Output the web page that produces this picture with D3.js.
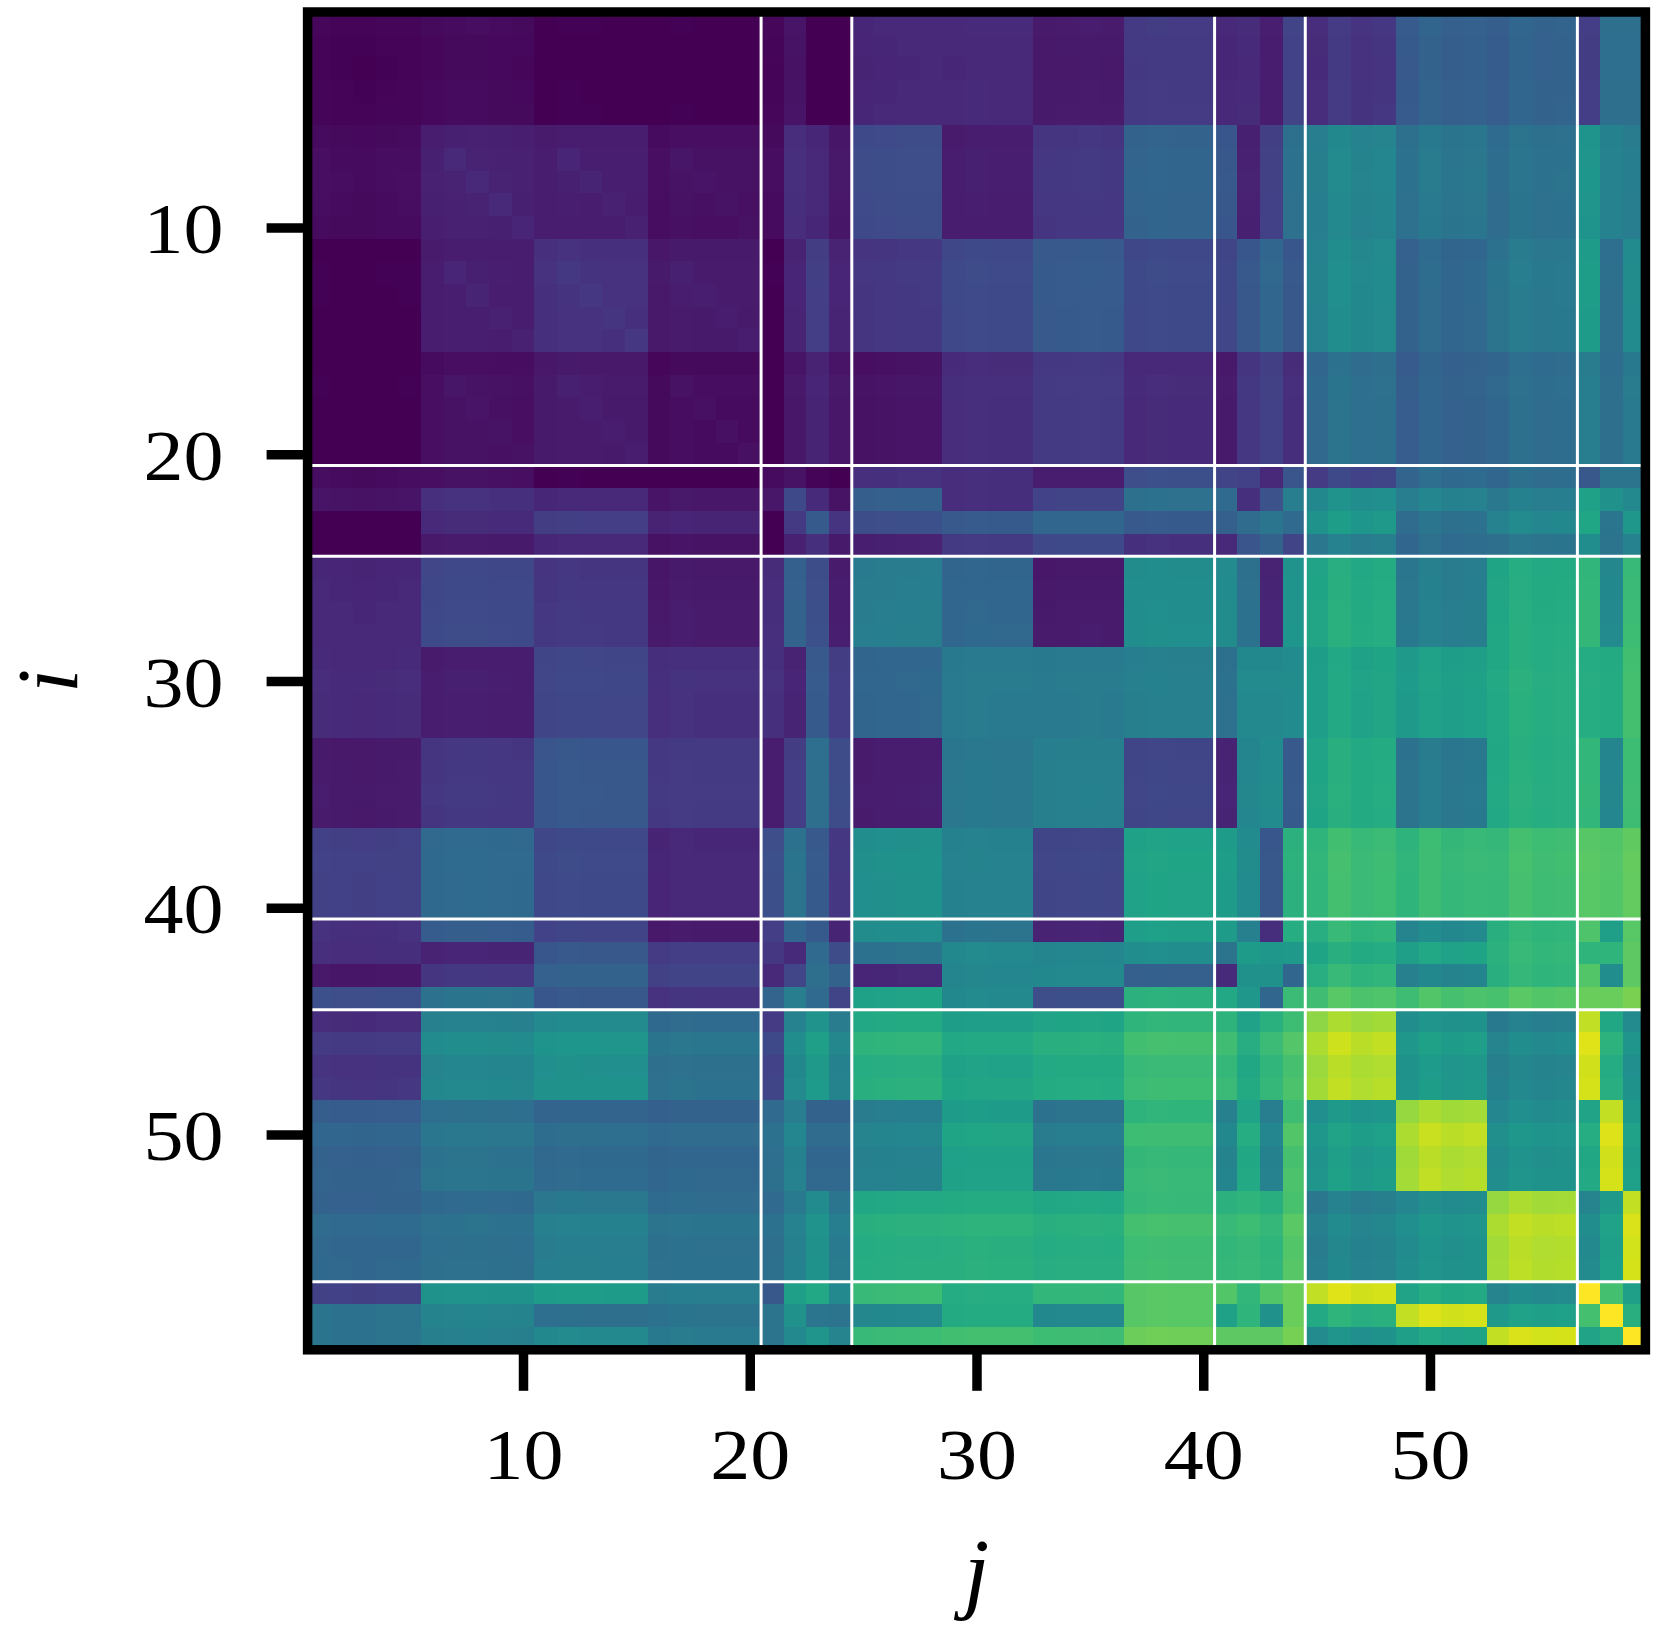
<!DOCTYPE html>
<html>
<head>
<meta charset="utf-8">
<script src="https://cdn.jsdelivr.net/npm/d3@7"></script>
<style>
  body { margin: 0; background: #fff; }
  text { font-family: "Liberation Serif", serif; fill: #000; }
</style>
</head>
<body>
<svg id="main-svg"></svg>
<script>
// sizes of the blocks along both axes, 59 indices in all
let groupSizes = [5, 5, 5, 5, 1, 1, 1, 1, 4, 4, 4, 4, 1, 1, 1, 1, 4, 4, 4, 1, 1, 1];

// value of each block (0 - 1 on viridis)
let blockValues = [
  [.01,.025,0,0,.015,.05,0,0,.11,.115,.07,.17,.11,.12,.08,.2,.15,.3,.31,.18,.36,.36],
  [.03,.09,.08,.04,.03,.13,.11,.06,.23,.08,.16,.32,.27,.09,.19,.37,.45,.39,.37,.52,.44,.42],
  [0,.08,.14,.07,0,.1,.18,.1,.16,.22,.28,.22,.21,.27,.33,.27,.47,.33,.4,.55,.36,.48],
  [0,.04,.07,.03,0,.06,.1,.06,.05,.13,.17,.12,.07,.16,.19,.13,.36,.31,.35,.42,.36,.41],
  [.03,.04,0,0,.03,.05,.01,0,.14,.13,.08,.24,.2,.19,.11,.26,.2,.34,.35,.27,.38,.38],
  [.05,.14,.11,.06,.06,.22,.12,.05,.3,.13,.2,.37,.34,.14,.25,.42,.49,.44,.42,.57,.5,.47],
  [0,.12,.18,.1,0,.17,.28,.15,.24,.28,.33,.28,.3,.35,.39,.34,.53,.37,.46,.59,.39,.53],
  [0,.07,.11,.05,0,.09,.14,.07,.09,.17,.22,.14,.11,.26,.31,.2,.42,.35,.38,.49,.38,.44],
  [.11,.22,.16,.07,.13,.31,.24,.08,.42,.33,.07,.49,.48,.37,.1,.52,.61,.42,.61,.66,.47,.68],
  [.12,.08,.21,.14,.14,.1,.28,.18,.33,.41,.41,.43,.37,.47,.47,.48,.58,.56,.62,.62,.61,.7],
  [.07,.16,.27,.17,.08,.18,.36,.23,.08,.4,.43,.21,.1,.46,.48,.28,.61,.4,.62,.66,.46,.69],
  [.19,.34,.22,.11,.24,.38,.28,.16,.5,.44,.21,.58,.55,.48,.27,.64,.68,.67,.69,.74,.73,.76],
  [.14,.29,.2,.07,.18,.33,.28,.1,.49,.38,.1,.56,.55,.43,.13,.62,.65,.47,.65,.72,.56,.74],
  [.13,.1,.27,.18,.16,.12,.34,.23,.38,.47,.46,.49,.38,.55,.53,.54,.61,.58,.66,.65,.65,.75],
  [.06,.16,.31,.2,.11,.21,.36,.31,.11,.46,.47,.3,.12,.5,.5,.33,.65,.45,.65,.73,.49,.75],
  [.24,.38,.27,.15,.32,.42,.34,.2,.58,.47,.24,.64,.6,.53,.33,.68,.72,.71,.73,.77,.77,.8],
  [.15,.46,.5,.37,.2,.47,.54,.44,.63,.58,.61,.68,.67,.6,.66,.71,.88,.53,.45,.93,.62,.5],
  [.31,.38,.34,.33,.36,.44,.33,.33,.44,.57,.4,.67,.45,.6,.44,.71,.54,.88,.5,.6,.93,.56],
  [.33,.36,.42,.37,.36,.43,.5,.41,.62,.63,.62,.69,.66,.67,.65,.73,.44,.5,.88,.47,.56,.93],
  [.19,.51,.55,.42,.27,.56,.6,.47,.68,.62,.66,.74,.73,.66,.73,.77,.93,.6,.47,1,.7,.56],
  [.38,.45,.36,.38,.38,.5,.39,.38,.47,.61,.47,.74,.57,.65,.5,.77,.63,.93,.56,.7,1,.63],
  [.38,.43,.47,.41,.38,.47,.52,.45,.68,.7,.69,.78,.75,.75,.75,.79,.5,.58,.93,.58,.63,1]
];

// small shift of each index inside its block
let indexShifts = [
  .003,-.002,-.004,0,.002,
  -.004,.003,.004,0,-.002,
  -.003,.004,.002,0,0,
  -.006,.003,0,0,0,
  0,0,0,0,
  -.006,-.002,.002,.004,
  -.003,.003,0,0,
  -.003,0,.002,0,
  -.003,.003,0,0,
  0,0,0,0,
  -.025,.022,-.004,.006,
  -.02,.018,-.003,.005,
  -.02,.015,0,.005,
  0,0,0
];

// lighter single cells in the top left blocks: [i, j, extra]
let lighterCells = [
  [7,7,.02],[8,8,.018],[9,9,.02],[10,10,.018],
  [7,12,.015],[8,13,.012],[9,14,.012],[10,15,.012],
  [7,17,.01],[8,18,.008],[9,19,.008],[10,20,.006],
  [12,12,.015],[13,13,.015],[14,14,.015],[15,15,.018],
  [12,17,.012],[13,18,.012],[14,19,.012],[15,20,.005],
  [17,17,.01],[18,18,.01],[19,19,.01],[20,20,.012]
];

let separators = [20.5, 24.5, 40.5, 44.5, 56.5];
let tickValues = [10, 20, 30, 40, 50];
let xLabel = 'j';
let yLabel = 'i';

let width = 1658;
let height = 1635;
let left = 307.6;
let top_ = 12;
let plotSize = 1337.8;
let spineWidth = 9.5;

let svg = d3.select('#main-svg')
  .attr('width', width)
  .attr('height', height)
  .style('display', 'block');

let x = d3.scaleLinear().domain([0.5, 59.5]).range([left, left + plotSize]);
let y = d3.scaleLinear().domain([0.5, 59.5]).range([top_, top_ + plotSize]);
let color = d3.scaleSequential(d3.interpolateViridis).domain([0, 1]).clamp(true);

// index (1 based) -> block number
let blockOf = [];
groupSizes.forEach((size, g) => d3.range(size).forEach(() => blockOf.push(g)));

let extra = new Map();
lighterCells.forEach(([i, j, v]) => {
  extra.set(`${i},${j}`, v);
  extra.set(`${j},${i}`, v);
});

let cells = [];
d3.range(1, 60).forEach(i => {
  d3.range(1, 60).forEach(j => {
    let value = blockValues[blockOf[i - 1]][blockOf[j - 1]]
      + indexShifts[i - 1] + indexShifts[j - 1]
      + (extra.get(`${i},${j}`) || 0);
    cells.push({ i, j, value });
  });
});

svg.append('g').selectAll('rect')
  .data(cells)
  .join('rect')
    .attr('x', d => x(d.j - 0.5))
    .attr('y', d => y(d.i - 0.5))
    .attr('width', x(1.5) - x(0.5))
    .attr('height', y(1.5) - y(0.5))
    .attr('fill', d => color(d.value))
    .attr('shape-rendering', 'crispEdges');

// white lines between the sections
svg.append('g').selectAll('line.v')
  .data(separators)
  .join('line')
    .attr('x1', d => x(d)).attr('x2', d => x(d))
    .attr('y1', y.range()[0]).attr('y2', y.range()[1])
    .attr('stroke', '#fff').attr('stroke-width', 3);
svg.append('g').selectAll('line.h')
  .data(separators)
  .join('line')
    .attr('y1', d => y(d)).attr('y2', d => y(d))
    .attr('x1', x.range()[0]).attr('x2', x.range()[1])
    .attr('stroke', '#fff').attr('stroke-width', 3);

let xAxis = d3.axisBottom(x).tickValues(tickValues).tickSize(41).tickPadding(37);
let yAxis = d3.axisLeft(y).tickValues(tickValues).tickSize(41).tickPadding(43);

function styleAxis(g) {
  g.select('.domain').remove();
  g.selectAll('line').attr('stroke', '#000').attr('stroke-width', spineWidth);
  // Computer Modern digits are wider than Liberation ones, stretch them a little
  g.selectAll('text')
    .attr('font-size', 72)
    .attr('font-family', '"Liberation Serif", serif')
    .attr('textLength', 80)
    .attr('lengthAdjust', 'spacingAndGlyphs');
}

svg.append('g').attr('transform', `translate(0,${top_ + plotSize})`).call(xAxis).call(styleAxis);
svg.append('g').attr('transform', `translate(${left},0)`).call(yAxis).call(styleAxis)
  .selectAll('text').attr('dy', '.35em');

// frame on top of everything
svg.append('rect')
  .attr('x', left).attr('y', top_)
  .attr('width', plotSize).attr('height', plotSize)
  .attr('fill', 'none')
  .attr('stroke', '#000')
  .attr('stroke-width', spineWidth);

svg.append('text')
  .attr('x', left + plotSize / 2)
  .attr('y', 1602)
  .attr('text-anchor', 'middle')
  .attr('font-size', 92)
  .attr('font-style', 'italic')
  .text(xLabel);

svg.append('text')
  .attr('transform', `translate(77,${top_ + plotSize / 2}) rotate(-90)`)
  .attr('text-anchor', 'middle')
  .attr('font-size', 86)
  .attr('font-style', 'italic')
  .text(yLabel);
</script>
</body>
</html>
